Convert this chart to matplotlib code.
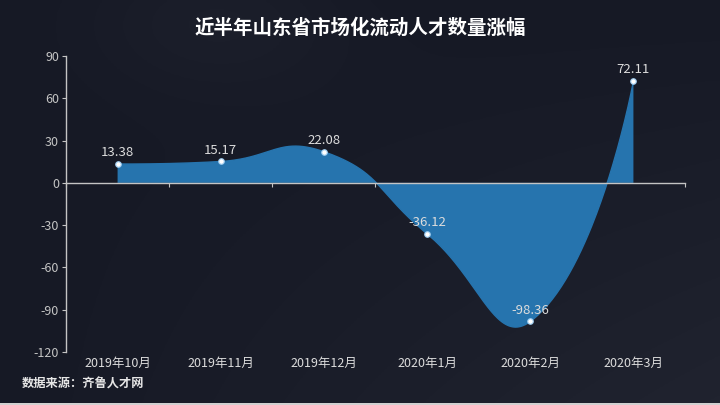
import numpy as np
import matplotlib
matplotlib.use("Agg")
import matplotlib.pyplot as plt
import matplotlib.transforms as mtransforms
from matplotlib.patches import Rectangle

# data
months = ["2019年10月", "2019年11月", "2019年12月", "2020年1月", "2020年2月", "2020年3月"]
growth = [13.38, 15.17, 22.08, -36.12, -98.36, 72.11]
y_ticks = [-120, -90, -60, -30, 0, 30, 60, 90]

title = "近半年山东省市场化流动人才数量涨幅"
source = "数据来源：齐鲁人才网"

plt.rcParams["font.family"] = ["Noto Sans CJK SC", "DejaVu Sans"]
plt.rcParams["axes.unicode_minus"] = False

BG = "#181b27"
AREA = "#2674ae"
AXIS = "#c4c4c4"
LABEL = "#dcdcdc"


def smooth_path(pts, smooth=0.5):
    """ECharts-style bezier smoothing of display-space points."""
    n = len(pts)
    cps = []
    for i in range(n):
        p = pts[i]
        if i == 0 or i == n - 1:
            cps.append(p.copy())
            continue
        prev_p, next_p = pts[i - 1], pts[i + 1]
        v = (next_p - prev_p) * smooth
        d0 = np.hypot(*(p - prev_p))
        d1 = np.hypot(*(p - next_p))
        s = d0 + d1
        if s:
            d0, d1 = d0 / s, d1 / s
        cps.append(p - v * d0)
        cps.append(p + v * d1)
    t = np.linspace(0, 1, 80)[:, None]
    out = []
    for i in range(n - 1):
        p0, p3 = pts[i], pts[i + 1]
        c1, c2 = cps[2 * i], cps[2 * i + 1]
        seg = ((1 - t) ** 3) * p0 + 3 * ((1 - t) ** 2) * t * c1 + 3 * (1 - t) * t ** 2 * c2 + t ** 3 * p3
        out.append(seg if i == 0 else seg[1:])
    return np.vstack(out)


fig = plt.figure(figsize=(7.2, 4.05), dpi=100)
fig.patch.set_facecolor(BG)

# faint board-like shading behind everything
bg_ax = fig.add_axes([0, 0, 1, 1], zorder=-10)
gx, gy = np.meshgrid(np.linspace(0, 1, 240), np.linspace(0, 1, 135))
base = np.array([0x16, 0x19, 0x25]) / 255.0
light = 0.04 * gx * gy + 0.02 * np.exp(-((gx - 0.3) ** 2 + (gy - 0.05) ** 2) / 0.03)
img = np.clip(base[None, None, :] + light[:, :, None], 0, 1)
bg_ax.imshow(img, aspect="auto", extent=[0, 1, 0, 1], origin="upper")
bg_ax.axis("off")

ax = fig.add_axes([66 / 720, 1 - 352 / 405, (685 - 66) / 720, (352 - 56) / 405])
ax.set_facecolor("none")
ax.set_xlim(-0.5, len(months) - 0.5)
ax.set_ylim(min(y_ticks), max(y_ticks))

for side in ("top", "right"):
    ax.spines[side].set_visible(False)
ax.spines["left"].set_color(AXIS)
ax.spines["left"].set_linewidth(1.0)
ax.spines["bottom"].set_position(("data", 0))
ax.spines["bottom"].set_color(AXIS)
ax.spines["bottom"].set_linewidth(1.0)

ax.set_yticks(y_ticks)
ax.tick_params(axis="y", colors=AXIS, length=3, labelsize=9, pad=2)
ax.set_xticks(np.arange(-0.5, len(months), 1))
ax.set_xticklabels([])
ax.tick_params(axis="x", colors=AXIS, length=3)

xpos = np.arange(len(months))
trans = mtransforms.blended_transform_factory(ax.transData, ax.transAxes)
for i, m in enumerate(months):
    ax.text(i, -0.037, m, transform=trans, ha="center", va="center",
            color=LABEL, fontsize=9)

# smoothed area, computed in display space like the original chart
disp = ax.transData.transform(np.column_stack([xpos, growth]))
curve = ax.transData.inverted().transform(smooth_path(disp))
cx, cy = curve[:, 0], curve[:, 1]
ax.fill(np.r_[cx, xpos[-1], xpos[0]], np.r_[cy, 0, 0], color=AREA, lw=0, zorder=2)
ax.plot(cx, cy, color=AREA, lw=1, zorder=2)

ax.scatter(xpos, growth, s=16, c="white", edgecolors="#9ccbf0", linewidths=0.8, zorder=5)
for i, v in enumerate(growth):
    ax.annotate(f"{v:.2f}", (i, v), xytext=(0, 3.5), textcoords="offset points",
                ha="center", va="bottom", color=LABEL, fontsize=9.5, zorder=6)

fig.text(0.5, 1 - 28 / 405, title, ha="center", va="center", color="white",
         fontsize=14, fontweight="bold")
fig.text(22 / 720, 1 - 384 / 405, source, ha="left", va="center", color="#e6e6e6",
         fontsize=8.8, fontweight="bold")

fig.add_artist(Rectangle((0, 0), 1, 2 / 405, transform=fig.transFigure,
                         facecolor="#d0d0d0", edgecolor="none"))

fig.savefig("out.png", dpi=100, facecolor=fig.get_facecolor())
